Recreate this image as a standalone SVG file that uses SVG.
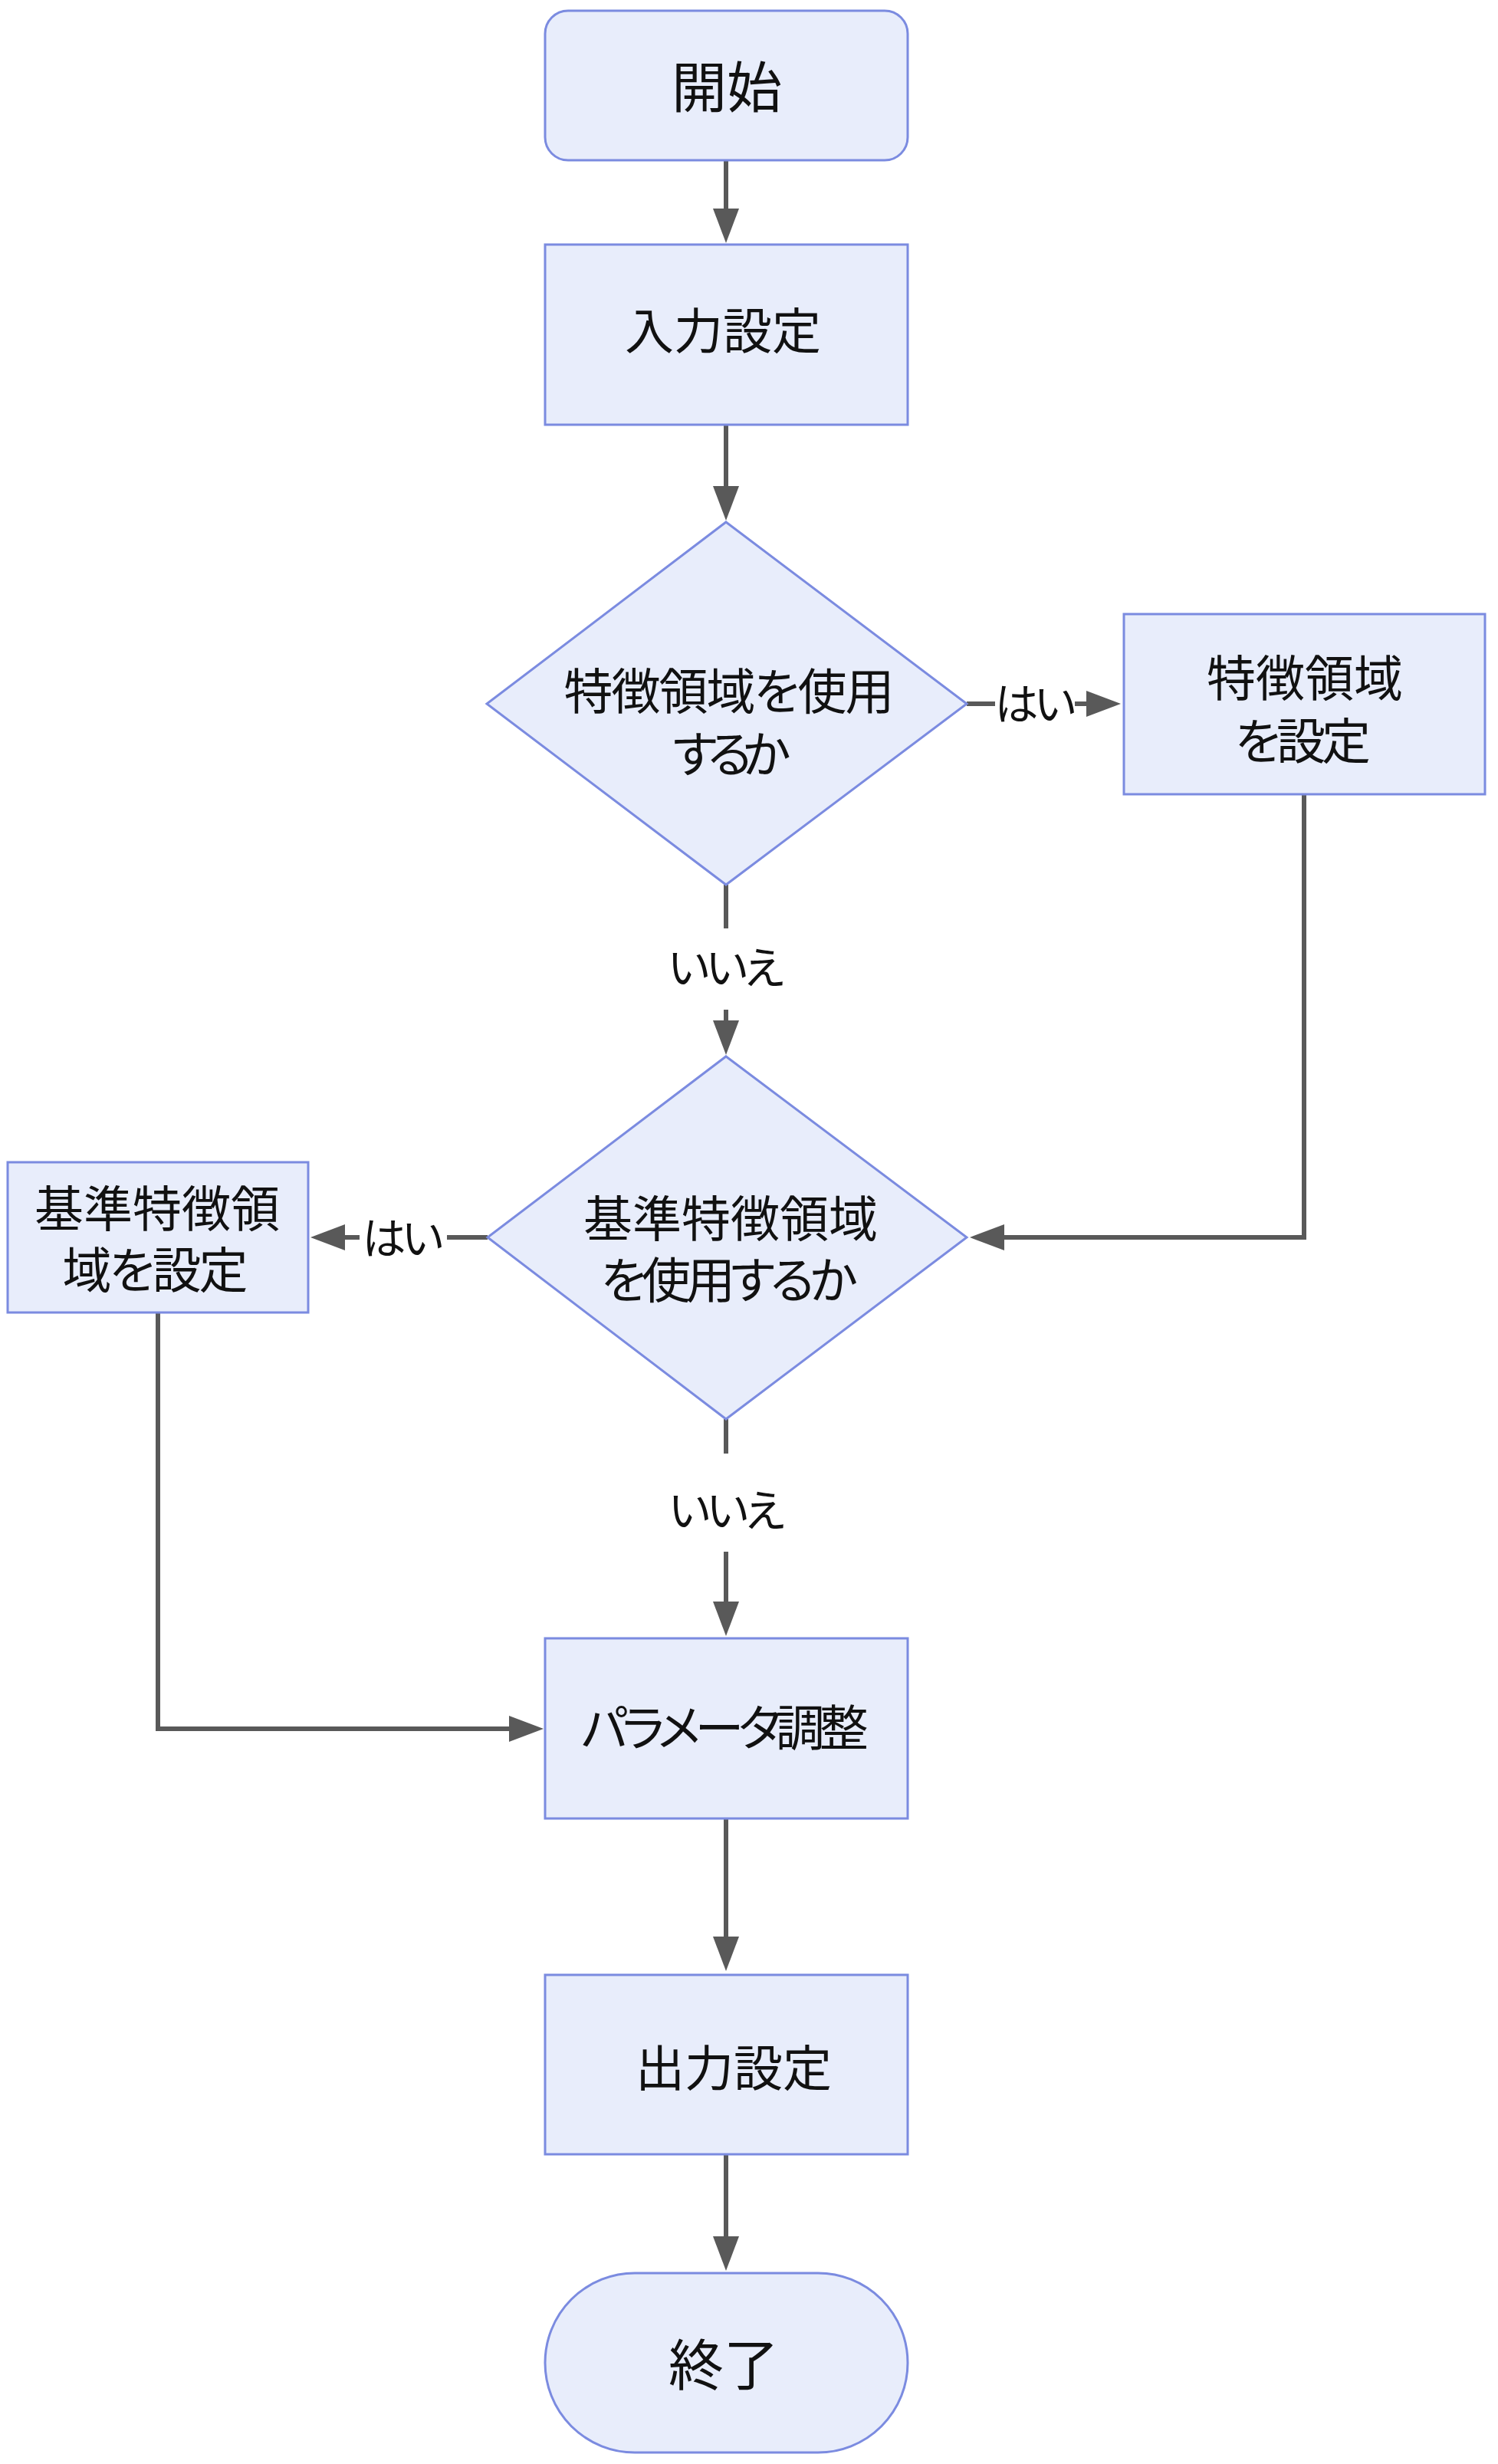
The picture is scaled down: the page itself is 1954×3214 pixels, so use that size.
<svg xmlns="http://www.w3.org/2000/svg" width="1954" height="3214" viewBox="0 0 1954 3214">
<style>
.node{fill:#E8EDFB;stroke:#7B8BE0;stroke-width:3}
.t{font-family:"Noto Sans CJK JP","Noto Sans CJK SC",sans-serif;font-size:64px;fill:#111;text-anchor:middle;dominant-baseline:central;font-feature-settings:"palt"}
.big{font-size:72px}
.lbl{font-size:57px}
.edge{fill:none;stroke:#595959;stroke-width:6}
.lbg{fill:#FFFFFF}
</style>
<defs>
<marker id="arrow" markerUnits="userSpaceOnUse" markerWidth="45" markerHeight="34" viewBox="0 0 45 34" refX="35" refY="17" orient="auto">
<path d="M0,0 L45,17 L0,34 Z" fill="#595959"/>
</marker>
</defs>
<rect width="1954" height="3214" fill="#FFFFFF"/>
<g id="connectors">
<path class="edge" d="M947,209 L947,307" marker-end="url(#arrow)"/>
<path class="edge" d="M947,554 L947,669" marker-end="url(#arrow)"/>
<path class="edge" d="M1261,918 L1452,918" marker-end="url(#arrow)"/>
<path class="edge" d="M1701,1036 L1701,1614 L1275,1614" marker-end="url(#arrow)"/>
<path class="edge" d="M947,1154 L947,1366" marker-end="url(#arrow)"/>
<path class="edge" d="M636,1614 L415,1614" marker-end="url(#arrow)"/>
<path class="edge" d="M947,1851 L947,2124" marker-end="url(#arrow)"/>
<path class="edge" d="M206,1712 L206,2255 L699,2255" marker-end="url(#arrow)"/>
<path class="edge" d="M947,2372 L947,2561" marker-end="url(#arrow)"/>
<path class="edge" d="M947,2810 L947,2952" marker-end="url(#arrow)"/>
<g id="edge-labels">
<rect class="lbg" x="1298" y="870" width="104" height="96"/>
<text class="t lbl" x="1348" y="914" letter-spacing="-5">はい</text>
<rect class="lbg" x="873" y="1211" width="148" height="106"/>
<text class="t lbl" x="945" y="1258" letter-spacing="-4">いいえ</text>
<rect class="lbg" x="469" y="1566" width="114" height="96"/>
<text class="t lbl" x="523" y="1611" letter-spacing="-5">はい</text>
<rect class="lbg" x="873" y="1896" width="148" height="128"/>
<text class="t lbl" x="946" y="1966" letter-spacing="-4">いいえ</text>
</g>
</g>
<g id="start">
<rect class="node" x="711" y="14" width="473" height="195" rx="30" ry="30"/>
<text class="t big" x="948" y="108">開始</text>
</g>
<g id="input">
<rect class="node" x="711" y="319" width="473" height="235"/>
<text class="t" x="943" y="427">入力設定</text>
</g>
<g id="decision1">
<polygon class="node" points="947,681 1261,918 947,1154 635,918"/>
<text class="t"><tspan x="950" y="897" letter-spacing="-2">特徴領域を使用</tspan><tspan x="948" y="979" letter-spacing="-12">するか</tspan></text>
</g>
<g id="setFeature">
<rect class="node" x="1466" y="801" width="471" height="235"/>
<text class="t"><tspan x="1702" y="880">特徴領域</tspan><tspan x="1697" y="962" letter-spacing="-5">を設定</tspan></text>
</g>
<g id="decision2">
<polygon class="node" points="947,1378 1261,1614 947,1851 636,1614"/>
<text class="t"><tspan x="953" y="1585">基準特徴領域</tspan><tspan x="948" y="1665" letter-spacing="-6">を使用するか</tspan></text>
</g>
<g id="setRefFeature">
<rect class="node" x="10" y="1516" width="392" height="196"/>
<text class="t"><tspan x="205" y="1572">基準特徴領</tspan><tspan x="201" y="1652" letter-spacing="-3">域を設定</tspan></text>
</g>
<g id="param">
<rect class="node" x="711" y="2137" width="473" height="235"/>
<text class="t" x="942" y="2249" letter-spacing="-7">パラメータ調整</text>
</g>
<g id="output">
<rect class="node" x="711" y="2576" width="473" height="234"/>
<text class="t" x="957" y="2693">出力設定</text>
</g>
<g id="end">
<rect class="node" x="711" y="2965" width="473" height="234" rx="117" ry="117"/>
<text class="t big" x="944" y="3079">終了</text>
</g>
</svg>
